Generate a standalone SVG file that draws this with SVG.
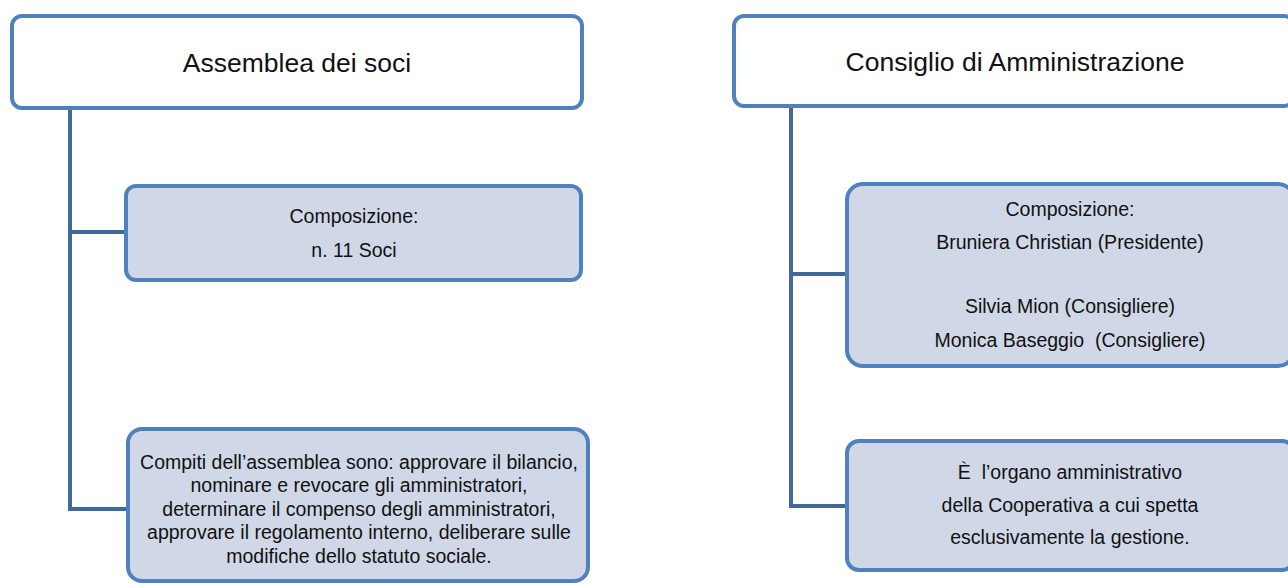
<svg xmlns="http://www.w3.org/2000/svg" width="1288" height="584" viewBox="0 0 1288 584">
<style>
.top{fill:#ffffff;stroke:#4F81BD;stroke-width:4}
.child{fill:#D0D8E8;stroke:#4F81BD;stroke-width:4}
.conn{fill:none;stroke:#41689A;stroke-width:4;stroke-linejoin:miter}
.t{font-family:"Liberation Sans",Arial,sans-serif;fill:#111;text-anchor:middle;white-space:pre}
.h{font-size:26.5px}
.s{font-size:19.5px}
</style>
<rect width="1288" height="584" fill="#ffffff"/>
<g id="connectors">
<path class="conn" d="M70 108 V509 H128 M70 232 H128"/>
<path class="conn" d="M791 106 V506 H847 M791 274 H847"/>
</g>
<g id="assemblea">
<rect class="top" x="12" y="16" width="570" height="92" rx="10"/>
<text class="t h" x="297" y="72">Assemblea dei soci</text>
</g>
<g id="composizione-soci">
<rect class="child" x="126" y="186" width="455" height="94" rx="10"/>
<text class="t s" x="354" y="223">Composizione:</text>
<text class="t s" x="354" y="257">n. 11 Soci</text>
</g>
<g id="compiti-assemblea">
<rect class="child" x="128" y="429" width="460" height="152" rx="14"/>
<text class="t s" x="359" y="469">Compiti dell’assemblea sono: approvare il bilancio,</text>
<text class="t s" x="359" y="492">nominare e revocare gli amministratori,</text>
<text class="t s" x="359" y="516">determinare il compenso degli amministratori,</text>
<text class="t s" x="359" y="539">approvare il regolamento interno, deliberare sulle</text>
<text class="t s" x="359" y="563">modifiche dello statuto sociale.</text>
</g>
<g id="consiglio">
<rect class="top" x="734" y="16" width="560" height="90" rx="10"/>
<text class="t h" x="1015" y="71">Consiglio di Amministrazione</text>
</g>
<g id="composizione-cda">
<rect class="child" x="847" y="184" width="447" height="182" rx="16"/>
<text class="t s" x="1070" y="216">Composizione:</text>
<text class="t s" x="1070" y="249">Bruniera Christian (Presidente)</text>
<text class="t s" x="1070" y="313">Silvia Mion (Consigliere)</text>
<text class="t s" x="1070" y="347" xml:space="preserve">Monica Baseggio  (Consigliere)</text>
</g>
<g id="organo">
<rect class="child" x="847" y="441" width="447" height="129" rx="12"/>
<text class="t s" x="1070" y="479" xml:space="preserve">È  l’organo amministrativo</text>
<text class="t s" x="1070" y="512">della Cooperativa a cui spetta</text>
<text class="t s" x="1070" y="544">esclusivamente la gestione.</text>
</g>
</svg>
